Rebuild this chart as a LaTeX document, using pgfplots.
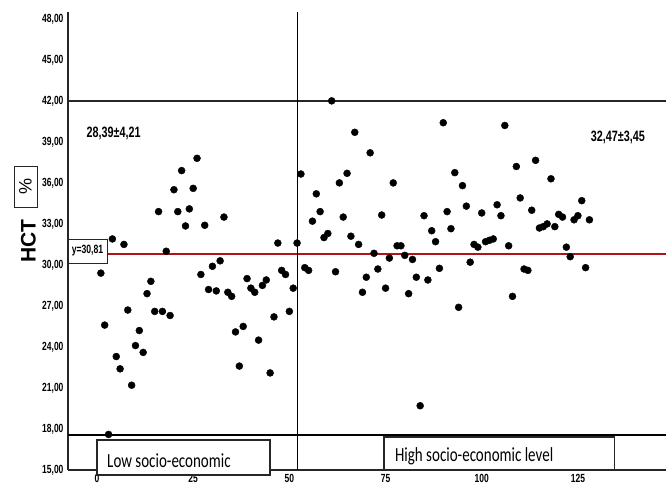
\documentclass[border=0pt]{standalone}
\usepackage{fontspec}
\setmainfont{Liberation Sans}
\newfontfamily\narrow[FakeStretch=0.72]{Liberation Sans}
\newfontfamily\calib[FakeStretch=0.75]{Carlito}
\usepackage{pgfplots}
\pgfplotsset{compat=1.18}
\definecolor{refred}{RGB}{175,20,25}
\begin{document}
\begin{tikzpicture}[x=1pt,y=1pt]
\useasboundingbox (0,0) rectangle (667,487);
\begin{axis}[
  at={(68pt,17pt)}, anchor=south west,
  scale only axis, width=598pt, height=458pt,
  xmin=-7.54, xmax=147.9, ymin=15, ymax=48.5,
  axis x line*=bottom, axis y line*=left,
  axis line style={-, line width=1.2pt, black!85},
  xtick={0,25,50,75,100,125}, ytick={15,18,...,48},
  major tick length=0pt,
  clip=false,
  /pgf/number format/assume math mode=true,
  ticklabel style={font=\narrow\bfseries\fontsize{11.8}{13}\selectfont},
  yticklabel style={/pgf/number format/fixed, /pgf/number format/fixed zerofill, /pgf/number format/precision=2, /pgf/number format/use comma, xshift=-1pt},
  xticklabel style={yshift=-0.5pt},
]
\addplot[black!85, line width=1.4pt] coordinates {(-7.54,42) (147.9,42)};
\addplot[black, line width=2.5pt] coordinates {(-7.54,17.55) (147.9,17.55)};
\addplot[refred, line width=2pt] coordinates {(-7.54,30.81) (147.9,30.81)};
\addplot[black, line width=1pt] coordinates {(52,15) (52,48.5)};
\addplot[only marks, mark=*, mark size=3.5pt, black] table {
x y
1 29.4
2 25.6
3 17.6
4 31.9
5 23.3
6 22.4
7 31.5
8 26.7
9 21.2
10 24.1
11 25.2
12 23.6
13 27.9
14 28.8
15 26.6
16 33.9
17 26.6
18 31.0
19 26.3
20 35.5
21 33.9
22 36.9
23 32.85
24 34.1
25 35.6
26 37.8
27 29.3
28 32.9
29 28.2
30 29.9
31 28.1
32 30.3
33 33.5
34 28.0
35 27.7
36 25.1
37 22.6
38 25.5
39 29.0
40 28.3
41 28.0
42 24.5
43 28.5
44 28.9
45 22.1
46 26.2
47 31.6
48 29.6
49 29.3
50 26.6
51 28.3
52 31.6
53 36.65
54 29.8
55 29.6
56 33.2
57 35.2
58 33.9
59 32.0
60 32.3
61 42.0
62 29.5
63 36.0
64 33.5
65 36.7
66 32.1
67 39.7
68 31.5
69 28.0
70 29.1
71 38.2
72 30.85
73 29.7
74 33.65
75 28.3
76 30.5
77 36.0
78 31.4
79 31.4
80 30.7
81 27.9
82 30.4
83 29.1
84 19.7
85 33.6
86 28.9
87 32.5
88 31.7
89 29.75
90 40.4
91 33.9
92 32.65
93 36.75
94 26.9
95 35.8
96 34.3
97 30.2
98 31.5
99 31.3
100 33.8
101 31.7
102 31.8
103 31.9
104 34.4
105 33.6
106 40.2
107 31.4
108 27.7
109 37.2
110 34.9
111 29.7
112 29.6
113 34.0
114 37.65
115 32.7
116 32.8
117 33.0
118 36.3
119 32.8
120 33.7
121 33.5
122 31.3
123 30.6
124 33.3
125 33.6
126 34.7
127 29.8
128 33.3
};
\node[draw=black!85, fill=white, line width=0.9pt, minimum width=39pt, minimum height=24pt, inner sep=0pt, font=\narrow\bfseries\fontsize{12}{13}\selectfont] at (axis cs:-2.47,31.02) {y=30,81};
\node[font=\narrow\bfseries\fontsize{15}{17}\selectfont] at (axis cs:4.3,39.65) {28,39±4,21};
\node[font=\narrow\bfseries\fontsize{15}{17}\selectfont] at (axis cs:135.4,39.36) {32,47±3,45};
\draw[black!85, line width=1.2pt, fill=white] (axis cs:0,17.19) rectangle (axis cs:44.96,14.63);
\draw[black!85, line width=1.2pt, fill=white] (axis cs:74.58,17.41) rectangle (axis cs:134.6,15.0);
\node[anchor=base west, inner sep=0pt, font=\calib\fontsize{20}{22}\selectfont] at (axis cs:2.6,15.15) {Low socio-economic};
\node[anchor=base west, inner sep=0pt, font=\calib\fontsize{20}{22}\selectfont] at (axis cs:77.44,15.59) {High socio-economic level};
\end{axis}
\node[rotate=90, font=\bfseries\fontsize{21}{24}\selectfont] at (28.5,246) {HCT};
\node[draw=black!85, line width=0.9pt, rotate=90, minimum width=41pt, minimum height=23pt, inner sep=0pt, font=\fontsize{18}{20}\selectfont] at (25.5,300.5) {\%};
\end{tikzpicture}
\end{document}
